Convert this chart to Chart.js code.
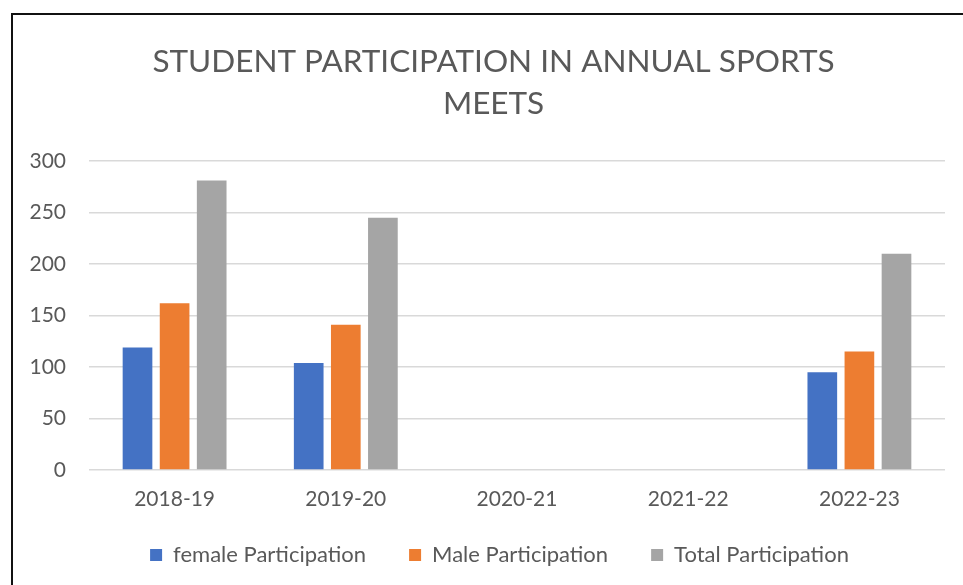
<!DOCTYPE html>
<html>
<head>
<meta charset="utf-8">
<script src="https://cdn.jsdelivr.net/npm/chart.js@4.4.0/dist/chart.umd.min.js"></script>
<style>
  html, body { margin: 0; padding: 0; background: #fff; overflow: hidden; width: 963px; height: 585px; }
  #wrap { position: absolute; left: 0; top: 0; width: 963px; height: 585px; }
  #frame { position: absolute; left: 11px; top: 13px; width: 960px; height: 600px; border-left: 2px solid #111; border-top: 2px solid #111; pointer-events: none; }
</style>
</head>
<body>
<div id="wrap"><canvas id="c" width="963" height="585"></canvas></div>
<div id="frame"></div>
<script>
const categories = ["2018-19", "2019-20", "2020-21", "2021-22", "2022-23"];
const femaleParticipation = [119, 104, null, null, 95];
const maleParticipation = [162, 141, null, null, 115];
const totalParticipation = [281, 245, null, null, 210];
const seriesNames = ["female Participation", "Male Participation", "Total Participation"];
const titleLines = ["STUDENT PARTICIPATION IN ANNUAL SPORTS", "MEETS"];

const FONT = "Lato";
const TXT = "#595959";

// Nudge title / legend boxes after layout (the original chart frame is wider than the crop)
const boxShift = {
  id: "boxShift",
  afterLayout(chart) {
    const t = chart.titleBlock;
    if (t) { t.left += 11; t.right += 11; }
    const lg = chart.legend;
    if (lg) { lg.top -= 11; lg.bottom -= 11; lg.left += 17; lg.right += 17; }
  }
};

new Chart(document.getElementById("c"), {
  type: "bar",
  data: {
    labels: categories,
    datasets: [
      { label: seriesNames[0], data: femaleParticipation, backgroundColor: "#4472C4" },
      { label: seriesNames[1], data: maleParticipation, backgroundColor: "#ED7D31" },
      { label: seriesNames[2], data: totalParticipation, backgroundColor: "#A5A5A5" }
    ]
  },
  plugins: [boxShift],
  options: {
    responsive: false,
    animation: false,
    devicePixelRatio: 1,
    categoryPercentage: 0.65,
    barPercentage: 0.8,
    layout: { padding: { left: 20, right: 18, top: 13, bottom: -2 } },
    plugins: {
      title: {
        display: true,
        text: titleLines,
        color: TXT,
        font: { family: FONT, size: 31.5, weight: "normal", lineHeight: 1.3333 },
        padding: { top: 28, bottom: 36 }
      },
      legend: {
        position: "bottom",
        labels: {
          color: TXT,
          font: { family: FONT, size: 22 },
          boxWidth: 12,
          boxHeight: 12,
          padding: 43
        }
      },
      tooltip: { enabled: false }
    },
    scales: {
      x: {
        grid: { display: false, drawTicks: false },
        border: { display: false },
        ticks: { color: TXT, font: { family: FONT, size: 21 }, padding: 17 },
        afterFit: (s) => { s.height = 42; }
      },
      y: {
        min: 0, max: 300,
        grid: { color: "#D9D9D9", lineWidth: 1.5, drawTicks: false },
        border: { display: false },
        ticks: { stepSize: 50, color: TXT, font: { family: FONT, size: 21 }, padding: 23 },
        afterFit: (s) => { s.width = 69; }
      }
    }
  }
});
</script>
</body>
</html>
